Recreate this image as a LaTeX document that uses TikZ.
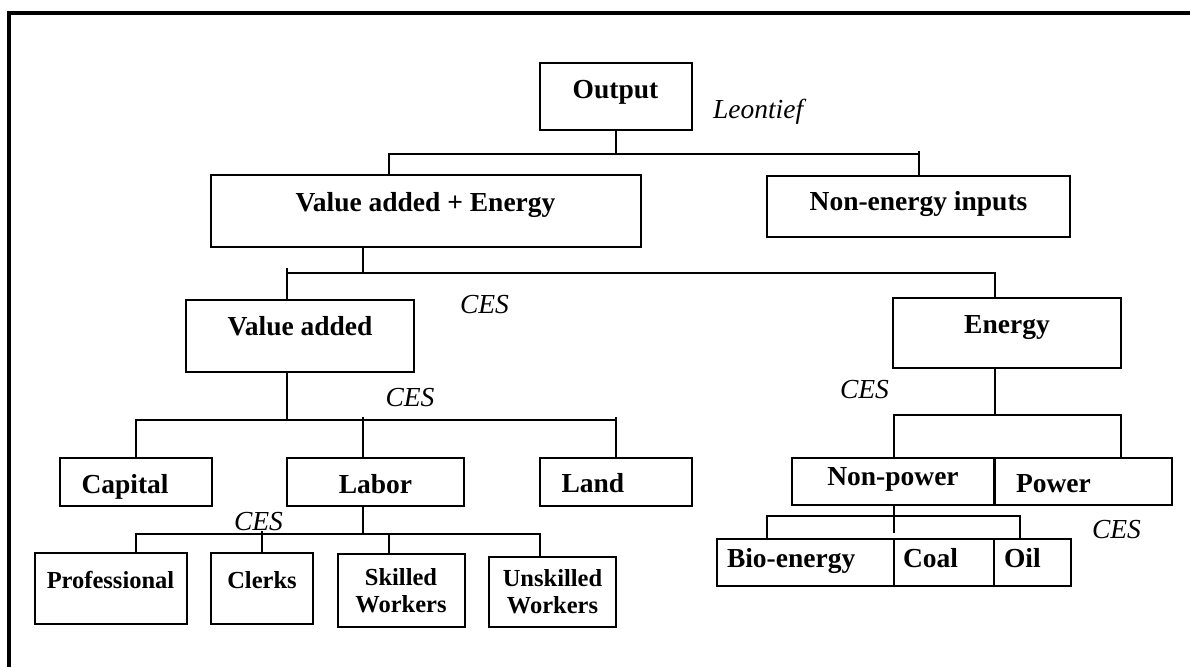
\documentclass[tikz,border=0pt]{standalone}
\usepackage{fontspec}
\setmainfont{Liberation Serif}

\begin{document}
\begin{tikzpicture}[x=1pt, y=-1pt, line width=2pt,
    box/.style={draw, inner sep=0pt, font=\fontsize{27.5}{33}\selectfont\bfseries},
    smallbox/.style={box, font=\fontsize{24.5}{27}\selectfont\bfseries},
    ces/.style={inner sep=0pt, anchor=base west, font=\fontsize{27.5}{33}\selectfont\itshape}]
    \useasboundingbox (0,0) rectangle (1190,667);
    \draw[line width=4pt] (9,667) -- (9,12.5) -- (1190,12.5);

    \node (out) at (615.5, 96.5) [box, minimum width=152pt, text height=35.5pt, text depth=31pt] {Output};
    \node (lf)  at (712, 118.5) [ces] {Leontief};
    \node (vae) at (425.5, 211) [box, minimum width=430pt, text height=36.5pt, text depth=35pt] {Value added + Energy};
    \node (ne)  at (918.5, 206.5) [box, minimum width=303.5pt, text height=35pt, text depth=26.5pt] {Non-energy inputs};

    \coordinate (j1)  at (615.5, 153.5);
    \coordinate (j1l) at (388.5, 153.5);
    \coordinate (j1r) at (918.5, 151);
    \draw (out.south -| j1) -- (j1);
    \draw (vae.north -| j1l) |- (j1) -- (j1 -| j1r);
    \draw (ne.north -| j1r) -- (j1r);

    %-----

    \node (va) at (300, 336) [box, minimum width=228.5pt, text height=35pt, text depth=36.5pt] {Value added};
    \node (en) at (1007, 333) [box, minimum width=227.5pt, text height=35.5pt, text depth=35pt] {Energy};
    \node (c1) at (459, 313.5) [ces] {CES};

    \coordinate (j2)  at (362.5, 273);
    \coordinate (j2l) at (287, 268);
    \coordinate (j2r) at (994.5, 273);
    \draw (vae.south -| j2) -- (j2);
    \draw (va.north -| j2l) -- (j2l);
    \draw (j2 -| j2l) -- (j2r) -- (en.north -| j2r);

    %-----

    \node (cap)  at (135.5, 482) [box, text width=108pt, inner xsep=22pt, align=left, text height=35.5pt, text depth=12pt] {Capital};
    \node (lab)  at (375.5, 482) [box, minimum width=177pt, text height=35.5pt, text depth=12pt] {Labor};
    \node (land) at (615.5, 481.5) [box, text width=108pt, inner xsep=22pt, align=left, text height=35pt, text depth=13pt] {Land};
    \node (c3) at (384.5, 406.5) [ces] {CES};

    \coordinate (j3)  at (287, 420);
    \coordinate (j3a) at (135.5, 420);
    \coordinate (j3b) at (362.5, 417);
    \coordinate (j3c) at (615.5, 417);
    \draw (va.south -| j3) -- (j3);
    \draw (cap.north -| j3a) -- (j3a) -- (j3 -| j3c);
    \draw (lab.north -| j3b) -- (j3b);
    \draw (land.north -| j3c) -- (j3c);

    %-----

    \node (prof) at (110.5, 588) [smallbox, minimum width=152pt, text height=35.5pt, text depth=35.5pt] {Professional};
    \node (clk)  at (262, 588) [smallbox, minimum width=102pt, text height=35.5pt, text depth=35.5pt] {Clerks};
    \node (skl)  at (401, 590.5) [smallbox, minimum width=127pt, minimum height=72.5pt, align=center] {Skilled\\Workers};
    \node (unsk) at (552.5, 591.5) [smallbox, minimum width=126.5pt, minimum height=70pt, align=center] {Unskilled\\Workers};
    \node (c5) at (233, 530.5) [ces] {CES};

    \coordinate (j4)  at (362.5, 533.5);
    \coordinate (j4a) at (135.5, 533.5);
    \coordinate (j4b) at (262, 531);
    \coordinate (j4c) at (388.5, 533.5);
    \coordinate (j4d) at (539.5, 533.5);
    \draw (lab.south -| j4) -- (j4);
    \draw (prof.north -| j4a) -- (j4a) -- (j4d) -- (unsk.north -| j4d);
    \draw (j4b) -- (clk.north -| j4b);
    \draw (j4c) -- (skl.north -| j4c);

    %-----

    \node (np) at (893, 481.5) [box, minimum width=202.5pt, text height=28pt, text depth=19.5pt] {Non-power};
    \node (pw) at (1083, 481.5) [box, text width=134pt, inner xsep=21.5pt, align=left, text height=35pt, text depth=12.5pt] {Power};
    \node (c2) at (839, 398.5) [ces] {CES};

    \coordinate (j5)  at (994.5, 415);
    \coordinate (j5a) at (893.5, 415);
    \coordinate (j5b) at (1120.5, 415);
    \draw (en.south -| j5) -- (j5);
    \draw (np.north -| j5a) |- (j5b) -- (pw.north -| j5b);

    %-----

    \node (bio)  at (805, 562.5) [box, text width=156pt, inner xsep=10.5pt, align=left, text height=28.5pt, text depth=18.5pt] {Bio-energy};
    \node (coal) at (943.5, 562.5) [box, text width=81pt, inner xsep=9.5pt, align=left, text height=28.5pt, text depth=18.5pt] {Coal};
    \node (oil)  at (1032, 562.5) [box, text width=56pt, inner xsep=10.5pt, align=left, text height=28.5pt, text depth=18.5pt] {Oil};
    \node (c4) at (1091, 538.5) [ces] {CES};

    \coordinate (j6)  at (894, 516);
    \coordinate (j6a) at (767, 516);
    \coordinate (j6b) at (1019.5, 516);
    \coordinate (j6e) at (894, 533);
    \draw (np.south -| j6) -- (j6e);
    \draw (bio.north -| j6a) |- (j6b) -- (oil.north -| j6b);
\end{tikzpicture}
\end{document}
